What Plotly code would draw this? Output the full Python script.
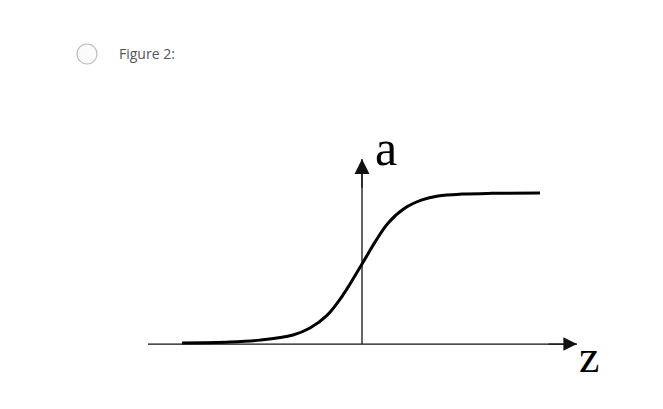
import plotly.graph_objects as go

# Sigmoid curve points (z, a)
curve_z = [-9.0, -6.6, -5.1, -3.45, -2.6, -1.75, -0.95, 0.0, 0.65, 1.3, 2.15, 3.0, 3.8, 5.0, 6.5, 8.9]
curve_a = [0.007, 0.013, 0.026, 0.06, 0.106, 0.19, 0.325, 0.53, 0.675, 0.80, 0.90, 0.954, 0.98, 0.993, 0.998, 1.0]

# Axis extents (z axis: horizontal line, a axis: vertical line)
zaxis_z = [-10.7, 10.75]
zaxis_a = [0.0, 0.0]
aaxis_z = [0.0, 0.0]
aaxis_a = [0.0, 1.225]

axis_labels = ["z", "a"]
caption = "Figure 2:"

W, H = 663, 409
OFF = 8  # page body margin offset
ZMIN, ZMAX = -17.7, 15.45
AMIN, AMAX = -0.483, 2.225

def px(xp):
    return (xp - OFF) / W

def py(yp):
    return 1 - (yp - OFF) / H

fig = go.Figure()
fig.add_trace(go.Scatter(x=zaxis_z, y=zaxis_a, mode="lines",
                         line=dict(color="#111", width=1.3), hoverinfo="skip"))
fig.add_trace(go.Scatter(x=aaxis_z, y=aaxis_a, mode="lines",
                         line=dict(color="#111", width=1.3), hoverinfo="skip"))
fig.add_trace(go.Scatter(x=curve_z, y=curve_a, mode="lines",
                         line=dict(color="black", width=3, shape="spline", smoothing=1.0),
                         hoverinfo="skip"))

annotations = [
    # arrowheads
    dict(x=zaxis_z[1], y=zaxis_a[1], ax=zaxis_z[1] - 1.5, ay=zaxis_a[1],
         xref="x", yref="y", axref="x", ayref="y", text="", showarrow=True,
         arrowhead=2, arrowsize=2.1, arrowwidth=1.3, arrowcolor="#111", standoff=0),
    dict(x=aaxis_z[1], y=aaxis_a[1], ax=aaxis_z[1], ay=aaxis_a[1] - 0.2,
         xref="x", yref="y", axref="x", ayref="y", text="", showarrow=True,
         arrowhead=2, arrowsize=2.3, arrowwidth=1.3, arrowcolor="#111", standoff=0),
    # axis labels
    dict(x=px(589), y=py(356), xref="paper", yref="paper", text=axis_labels[0],
         showarrow=False, xanchor="center", yanchor="middle",
         font=dict(family="Liberation Serif", size=46, color="black")),
    dict(x=px(386), y=py(148), xref="paper", yref="paper", text=axis_labels[1],
         showarrow=False, xanchor="center", yanchor="middle",
         font=dict(family="Liberation Serif", size=50, color="black")),
    # caption
    dict(x=px(117), y=py(54), xref="paper", yref="paper", text=caption,
         showarrow=False, xanchor="left", yanchor="middle",
         font=dict(family="Open Sans", size=14, color="#555")),
]

shapes = [
    dict(type="circle", xref="paper", yref="paper",
         x0=px(77), x1=px(97), y0=py(64), y1=py(44),
         line=dict(color="#bdbdbd", width=1.2), fillcolor="#fbfbfb"),
]

fig.update_layout(
    width=W, height=H,
    margin=dict(l=0, r=0, t=0, b=0),
    paper_bgcolor="white", plot_bgcolor="white",
    showlegend=False,
    xaxis=dict(range=[ZMIN, ZMAX], visible=False, fixedrange=True),
    yaxis=dict(range=[AMIN, AMAX], visible=False, fixedrange=True),
    annotations=annotations,
    shapes=shapes,
)

fig.write_html("out.html")
